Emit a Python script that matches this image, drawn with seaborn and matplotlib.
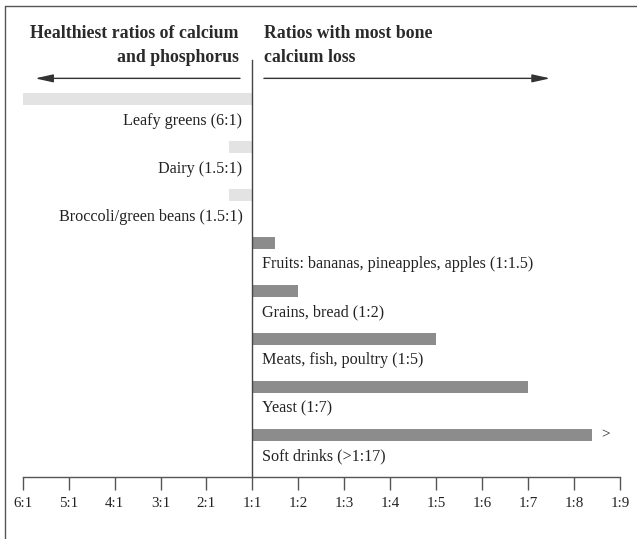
import matplotlib
matplotlib.use("Agg")
import matplotlib.pyplot as plt
import pandas as pd
import seaborn as sns
from matplotlib.lines import Line2D

# Foods from top to bottom
foods = [
    "Leafy greens (6:1)",
    "Dairy (1.5:1)",
    "Broccoli/green beans (1.5:1)",
    "Fruits: bananas, pineapples, apples (1:1.5)",
    "Grains, bread (1:2)",
    "Meats, fish, poultry (1:5)",
    "Yeast (1:7)",
    "Soft drinks (>1:17)",
]
# position on the ratio axis: 0 = 1:1, negative = calcium-rich, positive = phosphorus-rich
ratios = [-5, -0.5, -0.5, 0.5, 1, 4, 6, 7.4]
groups = ["healthy", "healthy", "healthy", "loss", "loss", "loss", "loss", "loss"]

tick_positions = list(range(-5, 9))
tick_labels = ["6:1", "5:1", "4:1", "3:1", "2:1", "1:1", "1:2",
               "1:3", "1:4", "1:5", "1:6", "1:7", "1:8", "1:9"]

df = pd.DataFrame({"food": foods, "ratio": ratios, "group": groups})

sns.set_theme(style="white")
plt.rcParams["font.family"] = ["Liberation Serif", "DejaVu Serif"]

W, H = 637, 539
fig = plt.figure(figsize=(W / 100, H / 100), dpi=100)
ax = fig.add_axes([22.7 / W, 1 - 477 / H, (620 - 22.7) / W, (477 - 60) / H])

sns.barplot(data=df, x="ratio", y="food", hue="group", orient="h",
            palette={"healthy": "#e3e3e3", "loss": "#8c8c8c"},
            width=0.27, dodge=False, saturation=1, legend=False,
            linewidth=0, ax=ax)

ax.set_xlim(-5, 8)
ax.set_ylim(7.875, -0.8125)
ax.set_xlabel("")
ax.set_ylabel("")
ax.set_yticks([])
ax.set_xticks(tick_positions, tick_labels)
ax.tick_params(axis="x", direction="out", length=9.4, width=1, color="#555555",
               labelsize=10.8, pad=5, labelcolor="#222222", bottom=True)

for side in ["top", "right"]:
    ax.spines[side].set_visible(False)
ax.spines["left"].set_position(("data", 0))
ax.spines["left"].set_color("#444444")
ax.spines["left"].set_linewidth(1)
ax.spines["bottom"].set_color("#555555")
ax.spines["bottom"].set_linewidth(1)

# labels under each bar
for i, (food, grp) in enumerate(zip(foods, groups)):
    if grp == "healthy":
        ax.annotate(food, xy=(0, i), xytext=(-10, -22), textcoords="offset pixels",
                    ha="right", va="center", fontsize=11.6, color="#222222")
    else:
        ax.annotate(food, xy=(0, i), xytext=(10, -21), textcoords="offset pixels",
                    ha="left", va="center", fontsize=11.6, color="#222222")

# soft drinks goes off the scale
ax.annotate(">", xy=(ratios[-1], len(foods) - 1), xytext=(9, 0),
            textcoords="offset pixels", ha="left", va="center",
            fontsize=11, color="#222222")

# direction arrows
arrow = dict(arrowstyle="-|>,head_length=0.9,head_width=0.2", color="#333333",
             lw=1, shrinkA=0, shrinkB=0)
ax.annotate("", xy=(-4.73, -0.43), xytext=(-0.27, -0.43), arrowprops=arrow,
            annotation_clip=False)
ax.annotate("", xy=(6.48, -0.43), xytext=(0.25, -0.43), arrowprops=arrow,
            annotation_clip=False)

# headers
head = dict(fontsize=12.8, color="#2a2a2a", fontweight="bold", va="center")
fig.text(239 / W, 1 - 33 / H, "Healthiest ratios of calcium", ha="right", **head)
fig.text(239 / W, 1 - 58 / H, "and phosphorus", ha="right", **head)
fig.text(264 / W, 1 - 33 / H, "Ratios with most bone", ha="left", **head)
fig.text(264 / W, 1 - 58 / H, "calcium loss", ha="left", **head)

# page frame (top and left)
fig.add_artist(Line2D([5 / W, 1], [1 - 6 / H, 1 - 6 / H], transform=fig.transFigure,
                      color="#555555", lw=1))
fig.add_artist(Line2D([5 / W, 5 / W], [0, 1 - 6 / H], transform=fig.transFigure,
                      color="#555555", lw=1))

fig.savefig("out.png", dpi=100, facecolor="white")
